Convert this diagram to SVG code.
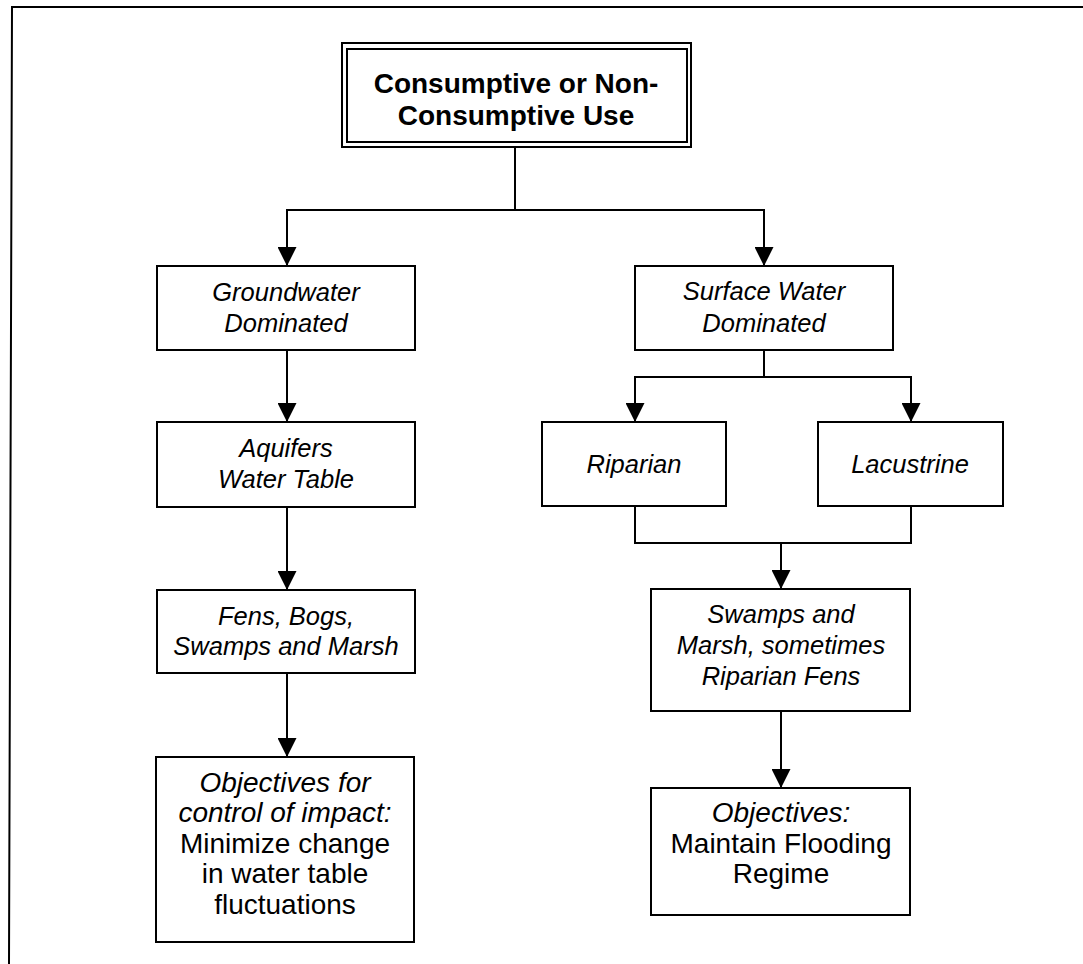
<svg xmlns="http://www.w3.org/2000/svg" width="1083" height="964" viewBox="0 0 1083 964">
<style>
.bx{fill:#fff;stroke:#000;stroke-width:2}
.ln{fill:none;stroke:#000;stroke-width:2}
.t{font-family:"Liberation Sans",Arial,sans-serif;text-anchor:middle;fill:#000}
.i{font-style:italic;font-size:25.5px}
.o{font-size:28px}
.oi{font-style:italic;font-size:28px}
.b{font-weight:bold;font-size:28px}
</style>
<defs>
<marker id="ah" viewBox="0 0 20 20" refX="20" refY="10" markerWidth="19" markerHeight="19" markerUnits="userSpaceOnUse" orient="auto">
<path d="M0,0 L20,10 L0,20 z" fill="#000"/>
</marker>
</defs>
<rect width="1083" height="964" fill="#fff"/>
<path class="ln" d="M1083,7 H12 L9,964"/>
<g id="connectors">
<path class="ln" d="M515,147 V210"/>
<path class="ln" d="M515,210 H287 V266" marker-end="url(#ah)"/>
<path class="ln" d="M515,210 H764 V266" marker-end="url(#ah)"/>
<path class="ln" d="M287,350 V422" marker-end="url(#ah)"/>
<path class="ln" d="M287,507 V590" marker-end="url(#ah)"/>
<path class="ln" d="M287,673 V757" marker-end="url(#ah)"/>
<path class="ln" d="M764,350 V377"/>
<path class="ln" d="M764,377 H635 V422" marker-end="url(#ah)"/>
<path class="ln" d="M764,377 H911 V422" marker-end="url(#ah)"/>
<path class="ln" d="M635,506 V543 H911 V506"/>
<path class="ln" d="M781,543 V589" marker-end="url(#ah)"/>
<path class="ln" d="M781,711 V788" marker-end="url(#ah)"/>
</g>
<g id="use">
<rect class="bx" x="342" y="43" width="349" height="104"/>
<rect class="bx" x="347" y="49" width="340" height="93"/>
<text class="t b" x="516" y="93">Consumptive or Non-</text>
<text class="t b" x="516" y="125">Consumptive Use</text>
</g>
<g id="groundwater">
<rect class="bx" x="157" y="266" width="258" height="84"/>
<text class="t i" x="286" y="301">Groundwater</text>
<text class="t i" x="286" y="332">Dominated</text>
</g>
<g id="aquifers">
<rect class="bx" x="157" y="422" width="258" height="85"/>
<text class="t i" x="286" y="457">Aquifers</text>
<text class="t i" x="286" y="488">Water Table</text>
</g>
<g id="fens">
<rect class="bx" x="157" y="590" width="258" height="83"/>
<text class="t i" x="286" y="625">Fens, Bogs,</text>
<text class="t i" x="286" y="655">Swamps and Marsh</text>
</g>
<g id="objectives-left">
<rect class="bx" x="156" y="757" width="258" height="185"/>
<text class="t oi" x="285" y="792">Objectives for</text>
<text class="t oi" x="285" y="822">control of impact:</text>
<text class="t o" x="285" y="853">Minimize change</text>
<text class="t o" x="285" y="883">in water table</text>
<text class="t o" x="285" y="914">fluctuations</text>
</g>
<g id="surface">
<rect class="bx" x="635" y="266" width="258" height="84"/>
<text class="t i" x="764" y="300">Surface Water</text>
<text class="t i" x="764" y="332">Dominated</text>
</g>
<g id="riparian">
<rect class="bx" x="542" y="422" width="184" height="84"/>
<text class="t i" x="634" y="473">Riparian</text>
</g>
<g id="lacustrine">
<rect class="bx" x="818" y="422" width="185" height="84"/>
<text class="t i" x="910" y="473">Lacustrine</text>
</g>
<g id="swamps">
<rect class="bx" x="651" y="589" width="259" height="122"/>
<text class="t i" x="781" y="623">Swamps and</text>
<text class="t i" x="781" y="654">Marsh, sometimes</text>
<text class="t i" x="781" y="685">Riparian Fens</text>
</g>
<g id="objectives-right">
<rect class="bx" x="651" y="788" width="259" height="127"/>
<text class="t oi" x="781" y="822">Objectives:</text>
<text class="t o" x="781" y="853">Maintain Flooding</text>
<text class="t o" x="781" y="883">Regime</text>
</g>
</svg>
